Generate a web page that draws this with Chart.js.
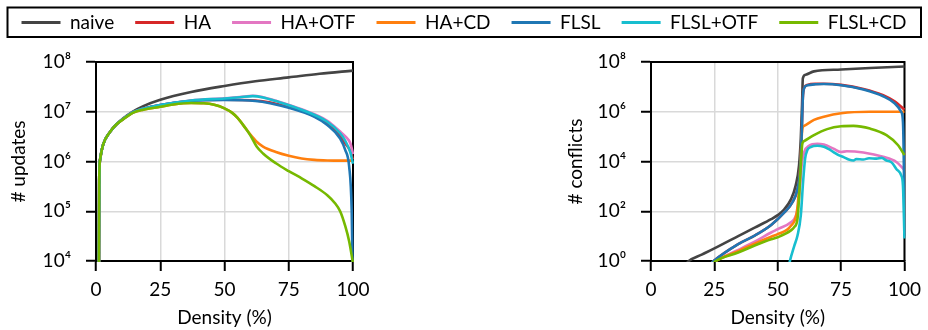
<!DOCTYPE html>
<html><head><meta charset="utf-8">
<script src="https://cdn.jsdelivr.net/npm/chart.js@4.4.1/dist/chart.umd.min.js"></script>
<style>
html,body{margin:0;padding:0;background:#fff;}
#wrap{position:relative;width:928px;height:330px;overflow:hidden;background:#fff;}
canvas{position:absolute;}
#cL{left:0;top:0;}
#cR{left:464px;top:0;}
#cLeg{left:0;top:-8px;}
</style></head><body>
<div id="wrap">
<canvas id="cL" width="464" height="330"></canvas>
<canvas id="cR" width="464" height="330"></canvas>
<canvas id="cLeg" width="928" height="240"></canvas>
</div>
<script>
// ---------- labels & ticks ----------
const seriesNames = ['naive','HA','HA+OTF','HA+CD','FLSL','FLSL+OTF','FLSL+CD'];
const seriesColors = ['#444444','#d62728','#e377c2','#ff7f0e','#1f77b4','#17becf','#76b900'];
const xTicks = [0,25,50,75,100];
const xTickLabels = ['0','25','50','75','100'];
const yUpdTicks = [1e4,1e5,1e6,1e7,1e8];
const yUpdTickLabels = ['10⁴','10⁵','10⁶','10⁷','10⁸'];
const yConTicks = [1,1e2,1e4,1e6,1e8];
const yConTickLabels = ['10⁰','10²','10⁴','10⁶','10⁸'];

// ---------- # updates (density %, value) ----------
const updNaive = [[1.1,2e3],[1.25,4e5],[1.6,1.1e6],[2.8,2.2e6],[5.4,3.9e6],[8,5.6e6],[10.6,7.4e6],[14.5,1.02e7],[18.4,1.3e7],[25,1.75e7],[37,2.5e7],[50,3.3e7],[62,4.1e7],[75,4.9e7],[87,5.8e7],[100,6.7e7]];
const updHA = [[1.1,2e3],[1.25,4e5],[1.6,1.1e6],[2.8,2.2e6],[5.4,3.9e6],[8,5.6e6],[10.6,7.2e6],[14.5,9.8e6],[18.4,1.15e7],[25,1.37e7],[37,1.66e7],[50,1.74e7],[62,1.68e7],[75,1.25e7],[85,8.2e6],[90,5.7e6],[95,3.2e6],[97,2.3e6],[99,1.6e6],[100,1.1e6]];
const updHAOTF = [[1.1,2e3],[1.25,4e5],[1.6,1.1e6],[2.8,2.2e6],[5.4,3.9e6],[8,5.6e6],[10.6,7.2e6],[14.5,9.8e6],[18.4,1.15e7],[25,1.37e7],[37,1.68e7],[50,1.86e7],[56,1.97e7],[61,2.1e7],[65,1.96e7],[70,1.66e7],[80,1.12e7],[90,6.6e6],[95,4.0e6],[97,3.2e6],[99,2.3e6],[100,1.4e6]];
const updHACD = [[1.1,2e3],[1.25,4e5],[1.6,1.1e6],[2.8,2.2e6],[5.4,3.9e6],[8,5.6e6],[10.6,7.1e6],[14.5,9.6e6],[18.4,1.1e7],[25,1.26e7],[30,1.4e7],[37,1.5e7],[42,1.48e7],[46,1.38e7],[50,1.17e7],[53,9.5e6],[55,7.6e6],[58,4.8e6],[60,3.5e6],[62.5,2.5e6],[65,2.0e6],[70,1.55e6],[75,1.3e6],[80,1.15e6],[85,1.08e6],[90,1.05e6],[95,1.04e6],[100,1.04e6]];
const updFLSL = [[1.1,2e3],[1.25,4e5],[1.6,1.1e6],[2.8,2.2e6],[5.4,3.9e6],[8,5.6e6],[10.6,7.2e6],[14.5,9.8e6],[18.4,1.15e7],[25,1.37e7],[37,1.65e7],[50,1.72e7],[62,1.65e7],[75,1.2e7],[85,7.9e6],[90,5.4e6],[95,2.9e6],[97,1.7e6],[98.5,8e5],[99.5,1e5],[99.9,5e3],[100,1e3]];
const updFLSLOTF = [[1.1,2e3],[1.25,4e5],[1.6,1.1e6],[2.8,2.2e6],[5.4,3.9e6],[8,5.6e6],[10.6,7.2e6],[14.5,9.8e6],[18.4,1.15e7],[25,1.37e7],[37,1.68e7],[50,1.85e7],[56,1.95e7],[61,2.06e7],[65,1.94e7],[70,1.64e7],[80,1.1e7],[90,6.3e6],[95,3.7e6],[97,2.6e6],[99,1.5e6],[100,9e5]];
const updFLSLCD = [[1.1,2e3],[1.25,4e5],[1.6,1.1e6],[2.8,2.2e6],[5.4,3.9e6],[8,5.6e6],[10.6,7.1e6],[14.5,9.6e6],[18.4,1.1e7],[25,1.26e7],[30,1.4e7],[37,1.5e7],[42,1.48e7],[46,1.38e7],[50,1.17e7],[53,9.5e6],[55,7.6e6],[58,4.8e6],[60,3.4e6],[62.5,2.0e6],[65,1.45e6],[70,9.2e5],[75,6.4e5],[80,4.6e5],[85,3.2e5],[90,2.1e5],[93,1.45e5],[95,1e5],[97,5e4],[98.5,2.5e4],[100,9e3]];

// ---------- # conflicts (density %, value) ----------
const conNaive = [[14,0.8],[14.9,1],[20,1.8],[25,3.2],[34.4,10],[40.9,22],[47.4,48],[50,70],[52.6,120],[55.2,300],[57.1,1.1e3],[58.4,7e3],[59.1,8.5e4],[59.6,2e6],[59.9,2.2e7],[61,3.1e7],[64.3,4.2e7],[75,5e7],[86.4,5.7e7],[100,6.6e7]];
const conHA = [[24,0.85],[24.7,1],[34.4,4.8],[40.9,10.5],[47.4,28],[52.6,90],[55.8,230],[57.8,800],[59,7e3],[59.4,8.5e4],[59.9,3.5e6],[60.4,9e6],[61.7,1.2e7],[65,1.32e7],[68.2,1.33e7],[75,1.2e7],[83.8,8.2e6],[91.6,4.6e6],[96.1,2.6e6],[98.7,1.6e6],[100,1.2e6]];
const conHAOTF = [[24.7,0.85],[25.5,1],[30,1.7],[34.4,2.8],[40.9,6],[47.4,14],[50,19],[55.2,36],[57,60],[58,150],[58.8,1e3],[59.5,8e3],[60.5,2.5e4],[62.3,4.3e4],[65.6,5.2e4],[68.2,4.8e4],[72,3.3e4],[75,2.4e4],[77.3,2.6e4],[83.8,2.3e4],[91.6,1.55e4],[96.8,9.6e3],[100,4.5e3]];
const conHACD = [[24.7,0.85],[25.5,1],[34.4,2.5],[40.9,5],[47.4,9.5],[50,12],[55.2,26],[57.5,90],[58.4,800],[59.1,1.8e4],[59.7,2.1e5],[60.4,2.7e5],[64.3,4.7e5],[68.2,6.3e5],[75,8.7e5],[86.4,1e6],[100,1e6]];
const conFLSL = [[24,0.85],[24.7,1],[34.4,4.8],[40.9,10.5],[47.4,28],[52.6,90],[55.8,230],[57.8,800],[59,7e3],[59.4,8.5e4],[59.9,3.5e6],[60.4,8.9e6],[61.7,1.15e7],[65,1.27e7],[68.2,1.3e7],[75,1.17e7],[83.8,7.8e6],[91.6,4.2e6],[96.1,2.2e6],[98.7,1e6],[99.4,4e5],[99.8,3e3],[100,10]];
const conFLSLOTF = [[54.5,0.7],[54.8,1],[56.5,4],[57.8,10.5],[59.1,68],[60,1.5e3],[60.8,1.3e4],[61.7,2.9e4],[63,3.8e4],[65.6,4.3e4],[68.2,3.9e4],[70,3.2e4],[72,2.4e4],[74,1.8e4],[76,1.5e4],[78,1.2e4],[79.9,1.1e4],[81,1.25e4],[83.8,1.2e4],[86,1.35e4],[89,1.3e4],[91,1.4e4],[92.9,1.1e4],[95,9e3],[96.8,5e3],[98.7,2.8e3],[99.4,1.1e3],[100,8]];
const conFLSLCD = [[24.7,0.85],[25.5,1],[34.4,2.2],[40.9,4.2],[47.4,7.5],[50,9],[55.2,17],[56.5,23],[57.8,50],[58.5,500],[59.1,7e3],[59.7,5.2e4],[60.4,6.6e4],[64.3,1.15e5],[69.5,2e5],[75,2.6e5],[79.9,2.7e5],[86.4,2.1e5],[92.9,1.15e5],[97.4,4.6e4],[100,1.8e4]];

const updSeries = [updNaive, updHA, updHAOTF, updHACD, updFLSL, updFLSLOTF, updFLSLCD];
const conSeries = [conNaive, conHA, conHAOTF, conHACD, conFLSL, conFLSLOTF, conFLSLCD];

Chart.defaults.font.family = "Lato, 'DejaVu Sans', sans-serif";
Chart.defaults.font.size = 19;
Chart.defaults.color = '#000';

function makeDatasets(list){
  return list.map((pts,i)=>({
    label: seriesNames[i],
    data: pts.map(p=>({x:p[0], y:p[1]})),
    borderColor: seriesColors[i],
    backgroundColor: seriesColors[i],
    borderWidth: 2.6,
    pointRadius: 0,
    cubicInterpolationMode: 'monotone',
    order: list.length - i,
    clip: 1
  }));
}

const framePlugin = {
  id:'frame',
  beforeDatasetsDraw(chart){
    const {ctx, chartArea:a} = chart;
    ctx.save();
    ctx.strokeStyle = '#000'; ctx.lineWidth = 2;
    ctx.beginPath();
    ctx.moveTo(a.left, a.top); ctx.lineTo(a.right, a.top); ctx.lineTo(a.right, a.bottom);
    ctx.stroke();
    ctx.restore();
  }
};

function makeChart(id, list, yMin, yTicks, yLabels, yTitle, padL, yW, padR){
  return new Chart(document.getElementById(id), {
    type:'line',
    data:{datasets: makeDatasets(list)},
    options:{
      responsive:false, animation:false, events:[],
      layout:{padding:{left:padL, right:padR, top:62, bottom:1}},
      plugins:{legend:{display:false}, tooltip:{enabled:false}},
      scales:{
        x:{type:'linear', min:0, max:100,
          afterBuildTicks:s=>{ s.ticks = xTicks.map(v=>({value:v})); },
          afterFit:s=>{ s.height = 68; },
          ticks:{autoSkip:false, maxRotation:0, padding:7, callback:(v,i)=>xTickLabels[i]},
          grid:{color:'#d9d9d9', lineWidth:1.5, tickColor:'#000', tickWidth:2, tickLength:10},
          border:{color:'#000', width:2},
          title:{display:true, text:'Density (%)', padding:0}
        },
        y:{type:'logarithmic', min:yMin, max:1e8,
          afterBuildTicks:s=>{ s.ticks = yTicks.map(v=>({value:v})); },
          afterFit:s=>{ s.width = yW; },
          ticks:{autoSkip:false, padding:15, callback:(v,i)=>yLabels[i]},
          grid:{color:'#d9d9d9', lineWidth:1.5, tickColor:'#000', tickWidth:2, tickLength:10},
          border:{color:'#000', width:2},
          title:{display:true, text:yTitle, padding:0}
        }
      }
    },
    plugins:[framePlugin]
  });
}

makeChart('cL', updSeries, 1e4, yUpdTicks, yUpdTickLabels, '# updates', 7, 89, 111);
makeChart('cR', conSeries, 1, yConTicks, yConTickLabels, '# conflicts', 100, 87, 20);

// legend (own canvas spanning full width)
const legendFrame = {
  id:'legendFrame',
  afterDraw(chart){
    const ctx = chart.ctx;
    ctx.save();
    ctx.strokeStyle = '#000'; ctx.lineWidth = 2;
    ctx.strokeRect(7.5, 15.5, 913.5, 29.5);
    ctx.restore();
  }
};
new Chart(document.getElementById('cLeg'), {
  type:'line',
  data:{datasets: seriesNames.map((n,i)=>({label:n, data:[], borderColor:seriesColors[i], backgroundColor:seriesColors[i]}))},
  options:{
    responsive:false, animation:false, events:[],
    layout:{padding:0},
    scales:{x:{display:false}, y:{display:false}},
    plugins:{
      tooltip:{enabled:false},
      legend:{display:true, position:'top', align:'center',
        labels:{boxWidth:39, boxHeight:3, padding:21, color:'#000', font:{size:19},
          generateLabels:(chart)=>chart.data.datasets.map((d,i)=>({text:d.label, fillStyle:d.borderColor, strokeStyle:d.borderColor, lineWidth:0, hidden:false, datasetIndex:i, fontColor:'#000'}))
        }
      }
    }
  },
  plugins:[legendFrame]
});
</script>
</body></html>
